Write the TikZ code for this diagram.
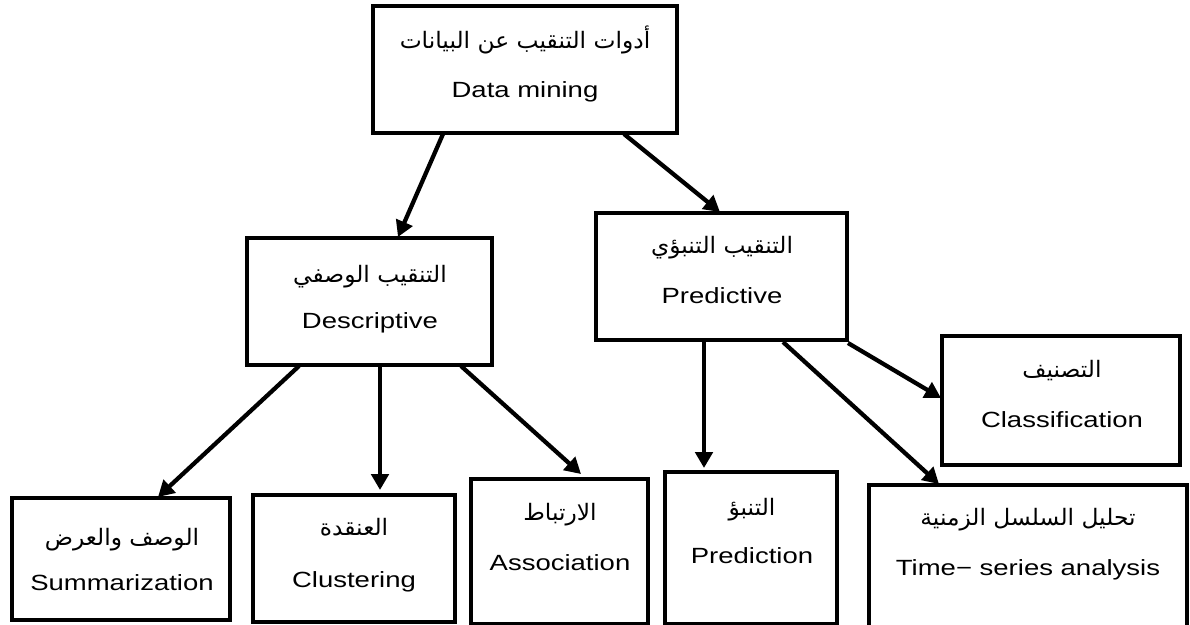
\documentclass[tikz,border=0pt]{standalone}
\usepackage{fontspec}
\setmainfont{Liberation Sans}
\newfontfamily\arabicfont[Script=Arabic]{DejaVu Sans}
\TeXXeTstate=1
\usetikzlibrary{arrows.meta}
\newcommand\ar[1]{\scalebox{1.03}[1]{\arabicfont\fontsize{17pt}{20pt}\selectfont\beginR #1\endR}}
\newcommand\en[1]{\scalebox{1.25}[1]{\fontsize{16.5pt}{20pt}\selectfont #1}}
\tikzset{
  box/.style={draw, line width=2.4pt, anchor=north west, inner sep=0pt, outer sep=0pt},
  lbl/.style={anchor=base, inner sep=0pt},
  conn/.style={line width=3.2pt, -{Triangle[length=12pt,width=13pt]}}
}
\newcommand\bx[5]{\node[box, minimum width=#4*0.75pt, minimum height=#5*0.75pt] (#1) at (#2,#3) {};}
\begin{document}
\begin{tikzpicture}[x=0.75pt,y=-0.75pt]
\useasboundingbox (0,0) rectangle (1190,625);
\clip (0,0) rectangle (1190,625);
\fill[white] (0,0) rectangle (1190,625);
% boxes: name, x, y, w, h
\bx{top}{373}{6}{304}{127}
\bx{desc}{247}{238}{245}{127}
\bx{pred}{596}{213}{251}{127}
\bx{class}{942}{336}{238}{129}
\bx{summ}{12}{498}{218}{122}
\bx{clus}{253}{495}{202}{127}
\bx{assoc}{471}{479}{177}{145}
\bx{predn}{665}{472}{172}{152}
\bx{ts}{869}{485}{318}{170}
% labels
\node[lbl] (topA) at (525,48) {\ar{أدوات التنقيب عن البيانات}};
\node[lbl] (topE) at (525,97) {\en{Data mining}};
\node[lbl] (descA) at (370,282) {\ar{التنقيب الوصفي}};
\node[lbl] (descE) at (370,328) {\en{Descriptive}};
\node[lbl] (predA) at (722,253) {\ar{التنقيب التنبؤي}};
\node[lbl] (predE) at (722,303) {\en{Predictive}};
\node[lbl] (classA) at (1062,377) {\ar{التصنيف}};
\node[lbl] (classE) at (1062,427) {\en{Classification}};
\node[lbl] (summA) at (122,545) {\ar{الوصف والعرض}};
\node[lbl] (summE) at (122,590) {\en{Summarization}};
\node[lbl] (clusA) at (354,535) {\ar{العنقدة}};
\node[lbl] (clusE) at (354,587) {\en{Clustering}};
\node[lbl] (assocA) at (560,520) {\ar{الارتباط}};
\node[lbl] (assocE) at (560,570) {\en{Association}};
\node[lbl] (prednA) at (752,515) {\ar{التنبؤ}};
\node[lbl] (prednE) at (752,563) {\en{Prediction}};
\node[lbl] (tsA) at (1028,525) {\ar{تحليل السلسل الزمنية}};
\node[lbl] (tsE) at (1028,575) {\en{Time\textminus\ series analysis}};
% connector end points
\coordinate (s1) at (443,134); \coordinate (e1) at (398,237);
\coordinate (s2) at (624,134); \coordinate (e2) at (720,212);
\coordinate (s3) at (299,366); \coordinate (e3) at (158,497);
\coordinate (s4) at (380,366); \coordinate (e4) at (380,490);
\coordinate (s5) at (461,366); \coordinate (e5) at (581,474);
\coordinate (s6) at (704,341); \coordinate (e6) at (704,468);
\coordinate (s7) at (783,342); \coordinate (e7) at (939,484);
\coordinate (s8) at (848,343); \coordinate (e8) at (941,398);
\draw[conn] (s1) -- (e1);
\draw[conn] (s2) -- (e2);
\draw[conn] (s3) -- (e3);
\draw[conn] (s4) -- (e4);
\draw[conn] (s5) -- (e5);
\draw[conn] (s6) -- (e6);
\draw[conn] (s7) -- (e7);
\draw[conn] (s8) -- (e8);
\end{tikzpicture}
\end{document}
